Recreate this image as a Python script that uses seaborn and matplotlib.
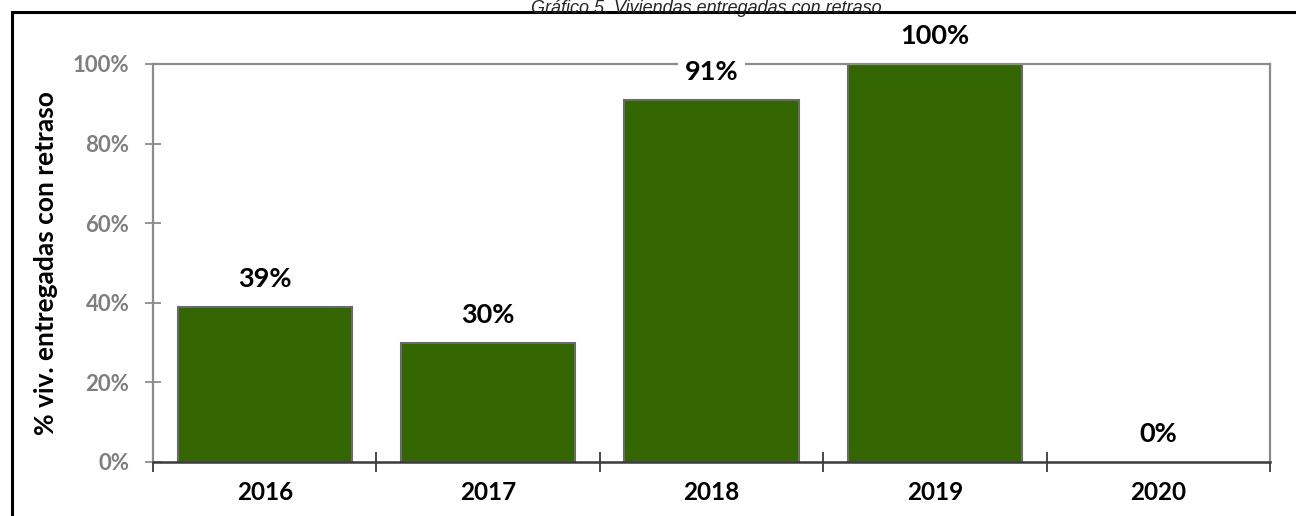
import matplotlib
matplotlib.use("Agg")
import matplotlib.pyplot as plt
import seaborn as sns
import pandas as pd
from matplotlib.patches import Rectangle
from matplotlib.ticker import FixedLocator, PercentFormatter

years = ["2016", "2017", "2018", "2019", "2020"]
share_late = [0.39, 0.30, 0.91, 1.00, 0.00]
y_ticks = [0.0, 0.2, 0.4, 0.6, 0.8, 1.0]

title = "Gráfico 5. Viviendas entregadas con retraso"
y_label = "% viv. entregadas con retraso"

sns.set_theme(style="white")
plt.rcParams["font.family"] = ["Lato", "DejaVu Sans"]

df = pd.DataFrame({"anio": years, "pct": share_late})

fig = plt.figure(figsize=(12.96, 5.16), dpi=100)
ax = fig.add_axes([153 / 1296, 1 - 462 / 516, (1270 - 153) / 1296, (462 - 64) / 516])

sns.barplot(data=df, x="anio", y="pct", color="#336600", saturation=1,
            width=0.78, edgecolor="#6a6a6a", linewidth=1.5, ax=ax)
# an empty year gets no outline
for bar in ax.patches:
    if bar.get_height() == 0:
        bar.set_edgecolor("none")

ax.set_ylim(0, 1.0)
ax.set_xlim(-0.5, len(years) - 0.5)
ax.set_yticks(y_ticks)
ax.yaxis.set_major_formatter(PercentFormatter(1.0, decimals=0))
ax.set_xlabel("")
ax.set_ylabel(y_label, fontsize=19, fontweight="bold", color="black")
ax.yaxis.set_label_coords((46 - 153) / 1117, 0.5)
ax.yaxis.label.set_va("center")

# spines
for side in ("left", "top", "right"):
    ax.spines[side].set_color("#8c8c8c")
    ax.spines[side].set_linewidth(1.6)
ax.spines["bottom"].set_color("#3a3a3a")
ax.spines["bottom"].set_linewidth(1.8)

# category ticks at boundaries
ax.tick_params(axis="x", which="major", length=0, pad=14,
               labelsize=17.5, labelcolor="black")
for lbl in ax.get_xticklabels():
    lbl.set_fontweight("bold")
ax.xaxis.set_minor_locator(FixedLocator([i - 0.5 for i in range(len(years) + 1)]))
ax.tick_params(axis="x", which="minor", direction="inout", length=15,
               width=1.3, color="#3a3a3a", bottom=True)
ax.tick_params(axis="y", which="major", direction="inout", length=12, width=1.3,
               color="#8c8c8c", left=True, labelsize=16, labelcolor="#7f7f7f", pad=11)
for lbl in ax.get_yticklabels():
    lbl.set_fontweight("bold")

# value labels
for i, v in enumerate(share_late):
    ax.annotate(f"{v:.0%}", xy=(i, v), xytext=(0, 20), textcoords="offset points",
                ha="center", va="center", fontsize=19.5, fontweight="bold",
                color="black", annotation_clip=False, zorder=5,
                bbox=dict(boxstyle="square,pad=0.25", fc="white", ec="none"))

# outer frame and title
fig.patches.append(Rectangle((11.5 / 1296, -0.05), 1.1, 1 - 12 / 516 + 0.05,
                             transform=fig.transFigure, fill=False,
                             edgecolor="black", linewidth=2.2))
fig.text(706 / 1296, 1 - 0.3 / 516, title, ha="center", va="top",
         fontsize=13, fontstyle="italic", family=["Liberation Sans", "DejaVu Sans"])

fig.savefig("out.png", dpi=100)
